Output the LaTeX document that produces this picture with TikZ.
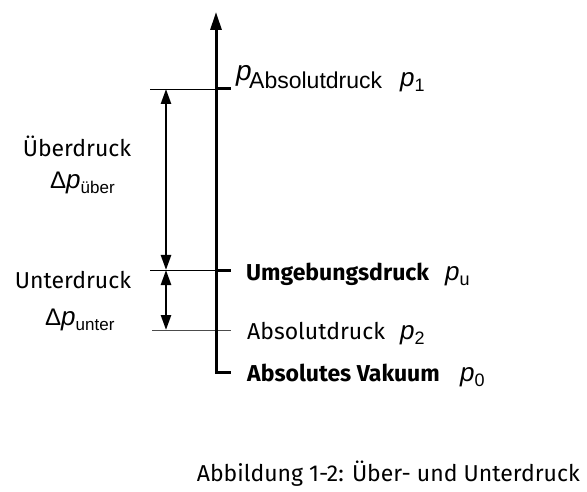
\documentclass[tikz,border=0pt]{standalone}
\usepackage{fontspec}
\setmainfont{Fira Sans}
\newfontfamily\pfont{Liberation Sans}
\usetikzlibrary{arrows.meta,positioning}
\newcommand{\pv}[2][18]{{\pfont\fontsize{26}{26}\selectfont\itshape p}\raisebox{-5pt}{\pfont\fontsize{#1}{#1}\selectfont #2}}
\newcommand{\dpv}[1]{{\pfont\fontsize{24}{24}\selectfont Δ}\pv[17]{#1}}
\tikzset{
  axis/.style={line width=3pt,-{Triangle[length=18pt,width=11pt]}},
  tick/.style={line width=3pt},
  thin/.style={line width=0.8pt},
  span/.style={line width=2.5pt,{Triangle[length=15pt,width=10pt]}-{Triangle[length=15pt,width=10pt]}},
  lbl/.style={anchor=base west,inner sep=0pt,font=\fontsize{23}{27}\selectfont},
  sym/.style={anchor=base west,inner sep=0pt}
}
\begin{document}
\begin{tikzpicture}[x=1pt,y=-1pt]
	\useasboundingbox (0,0) rectangle (587,492);
	
	\coordinate (vak) at (216,372);
	\coordinate (top) at (216,12);
	\coordinate (abs1) at (216,89);
	\coordinate (umg) at (216,270);
	\coordinate (abs2) at (216,330);
	
	\draw[thin] (150,89) -- (abs1);
	\draw[thin] (150,270) -- (231,270);
	\draw[thin,black!70] (152,330) -- (231,330);
	
	\draw[axis] ([yshift=-1.5pt]vak) -- (top);
	\draw[tick] (vak) -- ++(15,0);
	\draw[tick] (abs1) -- ++(15,0);
	\draw[tick] (umg) -- ++(15,0);
	
	\draw[span] (166,89) -- (166,270);
	\draw[span] (166,270) -- (166,330);
	
	% Beschriftung rechts
	\node[sym] (pabs) at (236,81) {\pfont\fontsize{28}{28}\selectfont\itshape p};
	\node[sym] (labs1) at (249,89) {\pfont\fontsize{23}{23}\selectfont Absolutdruck};
	\node[sym] (p1) at (400,87) {\pv{1}};
	\node[lbl] (lumg) at (246,280) {\textbf{Umgebungsdruck}};
	\node[sym] (pu) at (445,280) {\pv{u}};
	\node[lbl] (labs2) at (247,339) {Absolutdruck};
	\node[sym] (p2) at (400,339) {\pv{2}};
	\node[lbl] (lvak) at (247,381) {\textbf{Absolutes Vakuum}};
	\node[sym] (p0) at (460,381) {\pv{0}};
	
	% Beschriftung links
	\node[lbl,anchor=base] (ueber) at (77,157) {Überdruck};
	\node[sym] (dueber) at (50,189) {\dpv{über}};
	\node[lbl,anchor=base] (unter) at (73,288) {Unterdruck};
	\node[sym] (dunter) at (45,325) {\dpv{unter}};
	
	\node[lbl,anchor=base east] (cap) at (580,481) {Abbildung 1-2: Über- und Unterdruck};
	
\end{tikzpicture}
\end{document}
